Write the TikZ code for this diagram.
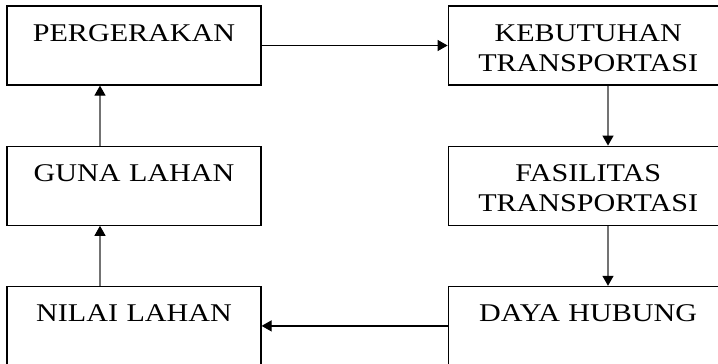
\documentclass[tikz,border=0pt]{standalone}
\usepackage{fontspec}
\setmainfont{Liberation Serif}[FakeStretch=1.18]
\usepackage{tikz}
\usetikzlibrary{positioning,calc,arrows.meta}

\begin{document}
\begin{tikzpicture}[x=1pt, y=-1pt, ->, >={Triangle[length=10pt, width=11pt]}, node distance=60pt and 186pt, kotak/.style = {draw, rectangle, line width=1.2pt, inner sep=0pt, align=center, text height=35pt, text depth=44pt, font=\fontsize{25.5}{30.5}\selectfont}, kiri/.style={kotak, text width=254pt}, kanan/.style={kotak, text width=280pt}, every edge/.append style={line width=1.2pt}]

\useasboundingbox (0,0) rectangle (718,364);

\node[kiri] (gerak) at (134,45.5) {PERGERAKAN};
\node[kanan] (butuh) [right=of gerak] {KEBUTUHAN\\TRANSPORTASI};
\node[kanan] (fasilitas) [below=of butuh] {FASILITAS\\TRANSPORTASI};
\node[kanan] (daya) [below=of fasilitas] {DAYA HUBUNG};
\node[kiri] (guna) [below=of gerak] {GUNA LAHAN};
\node[kiri] (nilai) [below=of guna] {NILAI LAHAN};

% vertical links are off-centre
\coordinate (xl) at (100,0);
\coordinate (xr) at (608,0);

\path
    (gerak) edge (butuh)
    (daya) edge (nilai);
\path[every edge/.append style={draw=black!55, -{Triangle[length=10pt, width=11pt, color=black]}}]
    (butuh.south -| xr) edge (fasilitas.north -| xr)
    (fasilitas.south -| xr) edge (daya.north -| xr)
    (nilai.north -| xl) edge (guna.south -| xl)
    (guna.north -| xl) edge (gerak.south -| xl);
\end{tikzpicture}
\end{document}
